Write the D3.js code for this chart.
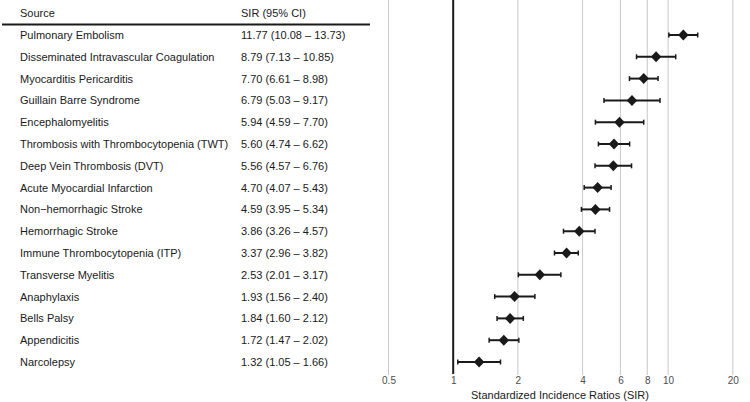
<!DOCTYPE html>
<html><head><meta charset="utf-8">
<script src="https://cdn.jsdelivr.net/npm/d3@7"></script>
<style>body{margin:0;background:#fff}svg{display:block;font-family:"Liberation Sans",Arial,sans-serif}</style>
</head><body><svg id="c" width="750" height="402"></svg>
<script>
const sources = ["Pulmonary Embolism","Disseminated Intravascular Coagulation","Myocarditis Pericarditis","Guillain Barre Syndrome","Encephalomyelitis","Thrombosis with Thrombocytopenia (TWT)","Deep Vein Thrombosis (DVT)","Acute Myocardial Infarction","Non\u2212hemorrhagic Stroke","Hemorrhagic Stroke","Immune Thrombocytopenia (ITP)","Transverse Myelitis","Anaphylaxis","Bells Palsy","Appendicitis","Narcolepsy"];
const sir   = [11.77,8.79,7.70,6.79,5.94,5.60,5.56,4.70,4.59,3.86,3.37,2.53,1.93,1.84,1.72,1.32];
const lower = [10.08,7.13,6.61,5.03,4.59,4.74,4.57,4.07,3.95,3.26,2.96,2.01,1.56,1.60,1.47,1.05];
const upper = [13.73,10.85,8.98,9.17,7.70,6.62,6.76,5.43,5.34,4.57,3.82,3.17,2.40,2.12,2.02,1.66];
const tickValues = [0.5,1,2,4,6,8,10,20];
const axisTitle = "Standardized Incidence Ratios (SIR)";
const colHeaders = ["Source","SIR (95% CI)"];

const svg = d3.select("#c");
const x = d3.scaleLog().domain([0.5,20]).range([388.5,732.8]);
const y = d3.scalePoint().domain(sources).range([35,362]);
const fs = 11;

// gridlines
svg.append("g").selectAll("line").data(tickValues.filter(d=>d!==1)).join("line")
  .attr("x1",d=>x(d)).attr("x2",d=>x(d)).attr("y1",0).attr("y2",375)
  .attr("stroke","#c8c8c8").attr("stroke-width",1);
// reference line at 1
svg.append("line").attr("x1",x(1)).attr("x2",x(1)).attr("y1",0).attr("y2",374)
  .attr("stroke","#1a1a1a").attr("stroke-width",2);

// axis labels
const ax = d3.axisBottom(x).tickValues(tickValues).tickFormat(d3.format("")).tickSize(0).tickPadding(0);
const axg = svg.append("g").attr("transform","translate(0,377)").call(ax);
axg.select(".domain").remove();
axg.selectAll("text").attr("font-size",10).attr("fill","#4d4d4d").attr("font-family","Liberation Sans, Arial, sans-serif");
svg.append("text").attr("x",x(Math.sqrt(0.5*20))+ (560-x(Math.sqrt(10)))).attr("y",399)
  .attr("text-anchor","middle").attr("font-size",fs).attr("fill","#1a1a1a").text(axisTitle);

// error bars
const rows = sources.map((s,i)=>({s,v:sir[i],lo:lower[i],hi:upper[i]}));
const g = svg.append("g");
g.selectAll("line.ci").data(rows).join("line").attr("class","ci")
  .attr("x1",d=>x(d.lo)).attr("x2",d=>x(d.hi)).attr("y1",d=>y(d.s)).attr("y2",d=>y(d.s))
  .attr("stroke","#1a1a1a").attr("stroke-width",2);
["lo","hi"].forEach(k=>{
  g.selectAll("line.cap"+k).data(rows).join("line").attr("class","cap"+k)
    .attr("x1",d=>x(d[k])).attr("x2",d=>x(d[k])).attr("y1",d=>y(d.s)-2.5).attr("y2",d=>y(d.s)+2.5)
    .attr("stroke","#1a1a1a").attr("stroke-width",1.5);
});
g.selectAll("path.pt").data(rows).join("path").attr("class","pt")
  .attr("d",d3.symbol(d3.symbolDiamond2,70))
  .attr("transform",d=>`translate(${x(d.v)},${y(d.s)}) scale(1,1.05)`)
  .attr("fill","#1a1a1a");

// table
svg.append("text").attr("x",20).attr("y",17).attr("font-size",fs).attr("fill","#1a1a1a").text(colHeaders[0]);
svg.append("text").attr("x",241).attr("y",17).attr("font-size",fs).attr("fill","#1a1a1a").text(colHeaders[1]);
svg.append("line").attr("x1",2).attr("x2",370).attr("y1",24.5).attr("y2",24.5).attr("stroke","#1a1a1a").attr("stroke-width",2);
const fmt = d3.format(".2f");
const tg = svg.append("g");
tg.selectAll("text.src").data(rows).join("text").attr("class","src")
  .attr("x",20).attr("y",d=>y(d.s)+4).attr("font-size",fs).attr("fill","#1a1a1a").text(d=>d.s);
tg.selectAll("text.val").data(rows).join("text").attr("class","val")
  .attr("x",241).attr("y",d=>y(d.s)+4).attr("font-size",fs).attr("fill","#1a1a1a")
  .text(d=>`${fmt(d.v)} (${fmt(d.lo)} \u2013 ${fmt(d.hi)})`);
</script></body></html>
